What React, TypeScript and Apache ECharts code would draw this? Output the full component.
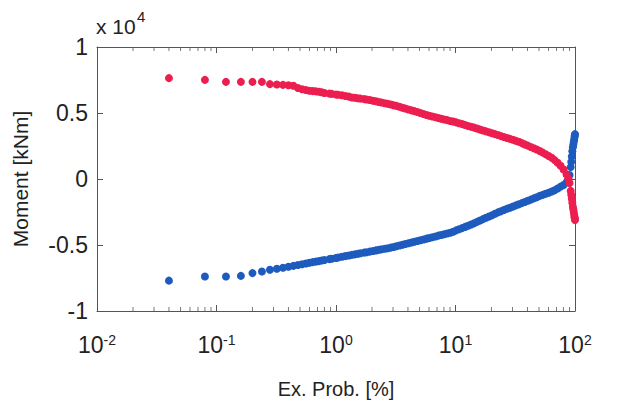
import React, { useEffect, useRef } from "react";
import * as echarts from "echarts";

// Exceedance probability [%] (shared by both series)
const exProb: number[] = [
  0.04, 0.08, 0.12, 0.16, 0.2, 0.24, 0.28, 0.32, 0.36, 0.4, 0.44, 0.48, 0.52, 0.56, 0.6, 0.64, 0.68,
  0.72, 0.76, 0.8, 0.88, 0.92, 1.0, 1.04, 1.12, 1.2, 1.28,
  1.36, 1.44, 1.52, 1.6, 1.72, 1.8, 1.92, 2.04, 2.16, 2.28,
  2.4, 2.56, 2.72, 2.88, 3.04, 3.2, 3.4, 3.6, 3.8, 4.04,
  4.28, 4.52, 4.8, 5.08, 5.4, 5.72, 6.04, 6.4, 6.8, 7.2,
  7.6, 8.04, 8.52, 9.04, 9.56, 10.12, 10.72, 11.36, 12.04, 12.76,
  13.52, 14.32, 15.16, 16.04, 17.0, 18.0, 19.08, 20.2, 21.4, 22.68,
  24.0, 25.44, 26.96, 28.56, 30.24, 32.04, 33.92, 35.92, 38.04, 40.28,
  42.68, 45.2, 47.88, 50.72, 53.72, 56.88, 60.24, 63.8, 67.56, 71.56,
  75.8, 80.28, 85.0, 88.0, 90.0, 92.0, 93.0, 94.0, 95.0, 96.0,
  96.8, 97.6, 98.4, 99.2, 99.6, 100,
];

// Moment [kNm], red series (positive side)
const momentRed: number[] = [
  7640, 7510, 7360, 7360, 7360, 7360, 7190, 7160, 7130, 7100, 7060, 6900, 6800, 6740, 6680, 6660, 6640,
  6610, 6570, 6520, 6470, 6450, 6400, 6380, 6340, 6290, 6240,
  6180, 6150, 6120, 6090, 6050, 6020, 5980, 5930, 5890, 5830,
  5790, 5740, 5690, 5640, 5580, 5540, 5470, 5400, 5340, 5270,
  5200, 5140, 5070, 5000, 4920, 4850, 4790, 4740, 4680, 4620,
  4570, 4510, 4460, 4400, 4350, 4290, 4220, 4160, 4090, 4020,
  3960, 3890, 3820, 3750, 3680, 3610, 3540, 3470, 3400, 3330,
  3250, 3180, 3110, 3040, 2970, 2890, 2820, 2720, 2620, 2530,
  2430, 2330, 2240, 2120, 2000, 1870, 1740, 1610, 1430, 1230,
  1000, 720, 350, 50, -300, -900, -1200, -1500, -1800, -2100,
  -2300, -2500, -2700, -2900, -3000, -3100,
];

// Moment [kNm], blue series (negative side)
const momentBlue: number[] = [
  -7700, -7390, -7390, -7340, -7130, -7010, -6880, -6800, -6720, -6650, -6580, -6510, -6460, -6400, -6350, -6300, -6260,
  -6220, -6180, -6140, -6070, -6040, -5980, -5950, -5890, -5840, -5790,
  -5750, -5710, -5670, -5630, -5580, -5550, -5500, -5450, -5410, -5370,
  -5330, -5280, -5240, -5200, -5150, -5100, -5040, -4980, -4930, -4870,
  -4810, -4750, -4700, -4640, -4580, -4520, -4470, -4410, -4350, -4290,
  -4240, -4180, -4130, -4070, -4000, -3890, -3810, -3720, -3630, -3540,
  -3450, -3350, -3250, -3150, -3040, -2940, -2840, -2740, -2630, -2530,
  -2440, -2350, -2260, -2180, -2090, -2000, -1910, -1830, -1740, -1650,
  -1560, -1470, -1380, -1280, -1200, -1120, -1040, -950, -850, -720,
  -580, -450, -250, -50, 300, 900, 1300, 1700, 2100, 2400,
  2600, 2800, 3000, 3200, 3300, 3400,
];

// Minor tick positions of the log x axis
const minorTickValues: number[] = [
  0.02, 0.03, 0.04, 0.05, 0.06, 0.07, 0.08, 0.09,
  0.2, 0.3, 0.4, 0.5, 0.6, 0.7, 0.8, 0.9,
  2, 3, 4, 5, 6, 7, 8, 9,
  20, 30, 40, 50, 60, 70, 80, 90,
];

const yMin = -10000;
const yMax = 10000;
const FONT = "'Liberation Sans', Arial, sans-serif";
const TXT = "#222";
const AX = "#555";

export default function App() {
  const ref = useRef<HTMLDivElement>(null);

  useEffect(() => {
    if (!ref.current) return;
    const chart = echarts.init(ref.current, undefined, { renderer: "svg" });
    const n = Math.min(exProb.length, momentRed.length, momentBlue.length);
    const redData = [] as number[][];
    const blueData = [] as number[][];
    for (let i = 0; i < n; i++) {
      redData.push([exProb[i], momentRed[i]]);
      blueData.push([exProb[i], momentBlue[i]]);
    }
    const xBase = {
      type: "log",
      logBase: 10,
      min: 0.01,
      max: 100,
      splitLine: { show: false },
      axisLine: { show: true, onZero: false, lineStyle: { color: AX, width: 1 } },
      axisTick: { show: true, inside: true, length: 6, lineStyle: { color: AX } },
    };
    const yBase = {
      type: "value",
      min: yMin,
      max: yMax,
      interval: 5000,
      splitLine: { show: false },
      axisLine: { show: true, onZero: false, lineStyle: { color: AX, width: 1 } },
      axisTick: { show: true, inside: true, length: 6, lineStyle: { color: AX } },
    };
    chart.setOption({
      animation: false,
      backgroundColor: "#fff",
      textStyle: { fontFamily: FONT },
      graphic: [
        {
          type: "text",
          left: 96,
          top: 16,
          silent: true,
          style: { text: "x 10", font: "21px 'Liberation Sans', Arial, sans-serif", fill: TXT },
        },
        {
          type: "text",
          left: 137,
          top: 9,
          silent: true,
          style: { text: "4", font: "15px 'Liberation Sans', Arial, sans-serif", fill: TXT },
        },
      ],
      grid: { left: 97, right: 46, top: 47, bottom: 97 },
      xAxis: [
        {
          ...xBase,
          position: "bottom",
          name: "Ex. Prob. [%]",
          nameLocation: "middle",
          nameGap: 68,
          nameTextStyle: { fontSize: 20, color: TXT, fontFamily: FONT },
          axisLabel: {
            margin: 22,
            formatter: (v: number) => `{b|10}{s|${Math.round(Math.log10(v))}}`,
            rich: {
              b: { fontSize: 23, color: TXT, fontFamily: FONT },
              s: { fontSize: 14, color: TXT, fontFamily: FONT, verticalAlign: "top" },
            },
          },
        },
        {
          ...xBase,
          position: "top",
          axisLabel: { show: false },
        },
      ],
      yAxis: [
        {
          ...yBase,
          position: "left",
          name: "Moment [kNm]",
          nameLocation: "middle",
          nameRotate: 90,
          nameGap: 66,
          nameTextStyle: { fontSize: 21, color: TXT, fontFamily: FONT },
          axisLabel: {
            margin: 9,
            fontSize: 23,
            color: TXT,
            fontFamily: FONT,
            formatter: (v: number) => String(v / 10000),
          },
        },
        {
          ...yBase,
          position: "right",
          axisLabel: { show: false },
        },
      ],
      series: [
        {
          type: "scatter",
          silent: true,
          clip: false,
          symbol: "rect",
          symbolSize: [1, 4],
          symbolOffset: [0, -2],
          itemStyle: { color: AX },
          data: minorTickValues.map((v) => [v, yMin]),
        },
        {
          type: "scatter",
          silent: true,
          clip: false,
          symbol: "rect",
          symbolSize: [1, 4],
          symbolOffset: [0, 2],
          itemStyle: { color: AX },
          data: minorTickValues.map((v) => [v, yMax]),
        },
        {
          type: "scatter",
          name: "negative",
          symbol: "circle",
          symbolSize: 8,
          itemStyle: { color: "#1E5BBE", opacity: 1 },
          data: blueData,
        },
        {
          type: "scatter",
          name: "positive",
          symbol: "circle",
          symbolSize: 8,
          itemStyle: { color: "#EC1E50", opacity: 1 },
          data: redData,
        },
      ],
    });
    return () => chart.dispose();
  }, []);

  return <div ref={ref} style={{ width: 621, height: 408, position: "absolute", left: 0, top: 0 }} />;
}
